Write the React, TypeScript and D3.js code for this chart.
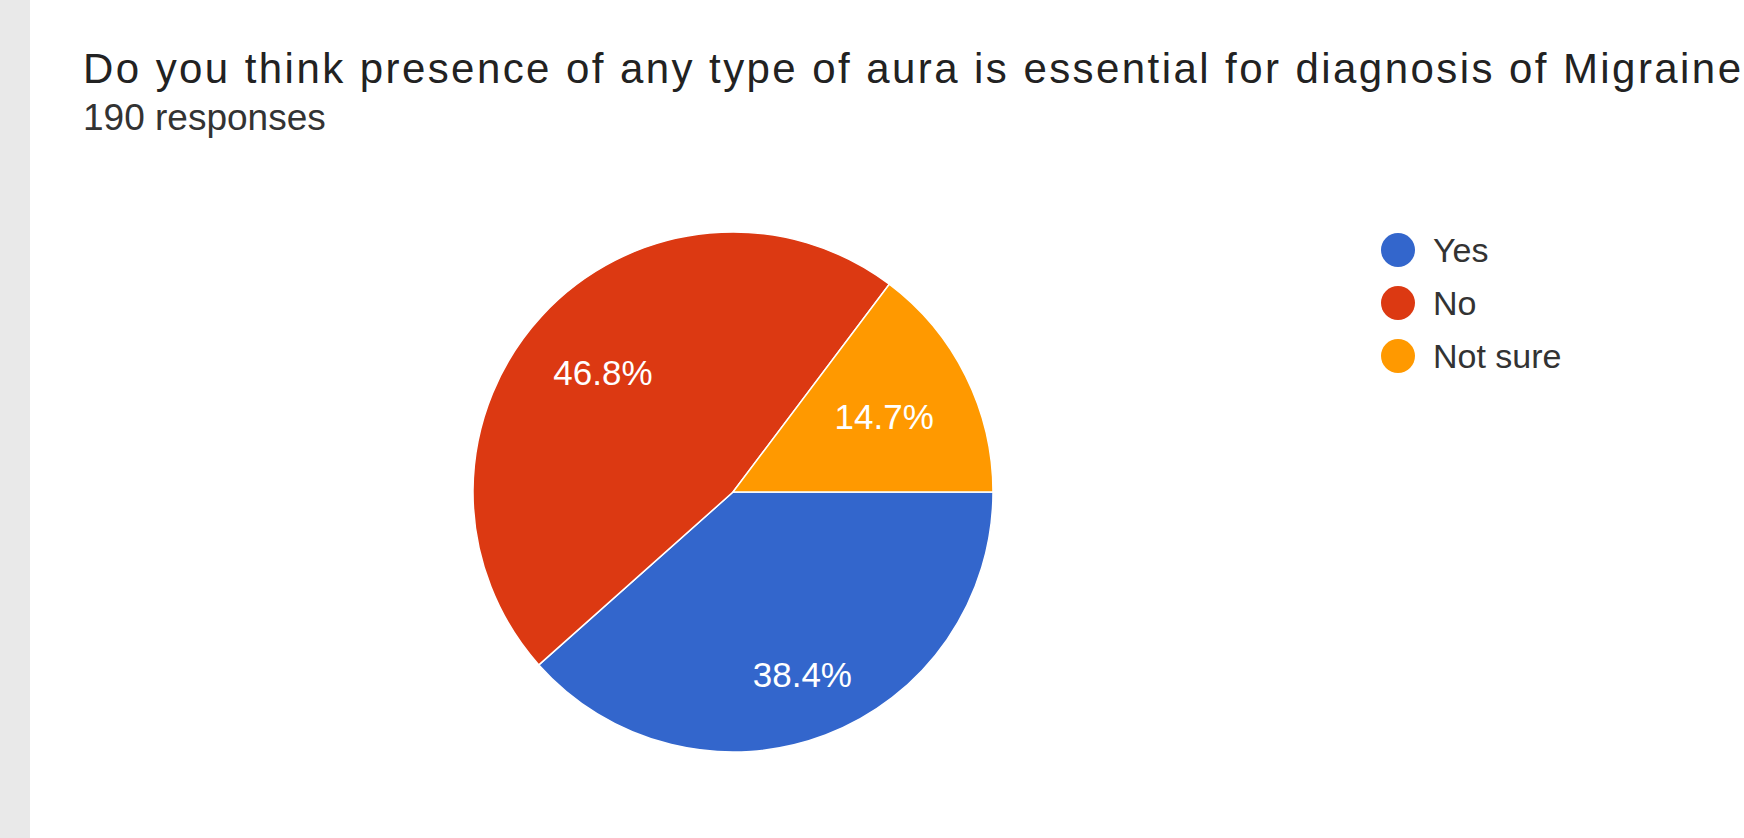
import React from "react";
import * as d3 from "d3";

const categories = ["Yes", "No", "Not sure"];
const counts = [73, 89, 28];
const colors = ["#3366cc", "#dc3912", "#ff9900"];
const titleText = "Do you think presence of any type of aura is essential for diagnosis of Migraine";
const subtitleText = "190 responses";

const W = 1744;
const H = 838;
// layout: radial position of each slice label as a fraction of the radius
const labelRadiusFrac = [0.75, 0.68, 0.65];

export default function App() {
  const cx = 733;
  const cy = 492;
  const r = 260;
  const total = d3.sum(counts);
  const pie = d3
    .pie<number>()
    .sort(null)
    .startAngle(Math.PI / 2)
    .endAngle(Math.PI / 2 + 2 * Math.PI)
    .value((d) => d);
  const arcs = pie(counts);
  const arcGen = d3.arc<d3.PieArcDatum<number>>().innerRadius(0).outerRadius(r);
  const fmt = d3.format(".1%");
  const legendY = d3.scalePoint<string>().domain(categories).range([250, 356]);

  return (
    <svg
      width={W}
      height={H}
      style={{ position: "fixed", left: 0, top: 0, background: "#ffffff" }}
      fontFamily="'Liberation Sans', Arial, sans-serif"
    >
      <rect x={0} y={0} width={W} height={H} fill="#ffffff" />
      <rect x={0} y={0} width={30} height={H} fill="#e9e9e9" />
      <text
        x={83}
        y={83}
        fontSize={42}
        textLength={1658}
        lengthAdjust="spacing"
        fill="#222222"
      >
        {titleText}
      </text>
      <text x={83} y={130} fontSize={37} fill="#333333">
        {subtitleText}
      </text>
      <g transform={`translate(${cx},${cy})`}>
        {arcs.map((a, i) => (
          <path key={i} d={arcGen(a) || ""} fill={colors[i]} stroke="#ffffff" strokeWidth={1.5} />
        ))}
        {arcs.map((a, i) => {
          const lr = r * labelRadiusFrac[i];
          const [lx, ly] = d3
            .arc<d3.PieArcDatum<number>>()
            .innerRadius(lr)
            .outerRadius(lr)
            .centroid(a);
          return (
            <text
              key={"l" + i}
              x={lx}
              y={ly}
              fontSize={35}
              fill="#ffffff"
              textAnchor="middle"
              dominantBaseline="central"
            >
              {fmt(counts[i] / total)}
            </text>
          );
        })}
      </g>
      <g>
        {categories.map((c, i) => (
          <g key={c} transform={`translate(1398,${legendY(c)})`}>
            <circle r={17} fill={colors[i]} />
            <text x={35} y={0} dy="0.35em" fontSize={34} fill="#333333">
              {c}
            </text>
          </g>
        ))}
      </g>
    </svg>
  );
}
